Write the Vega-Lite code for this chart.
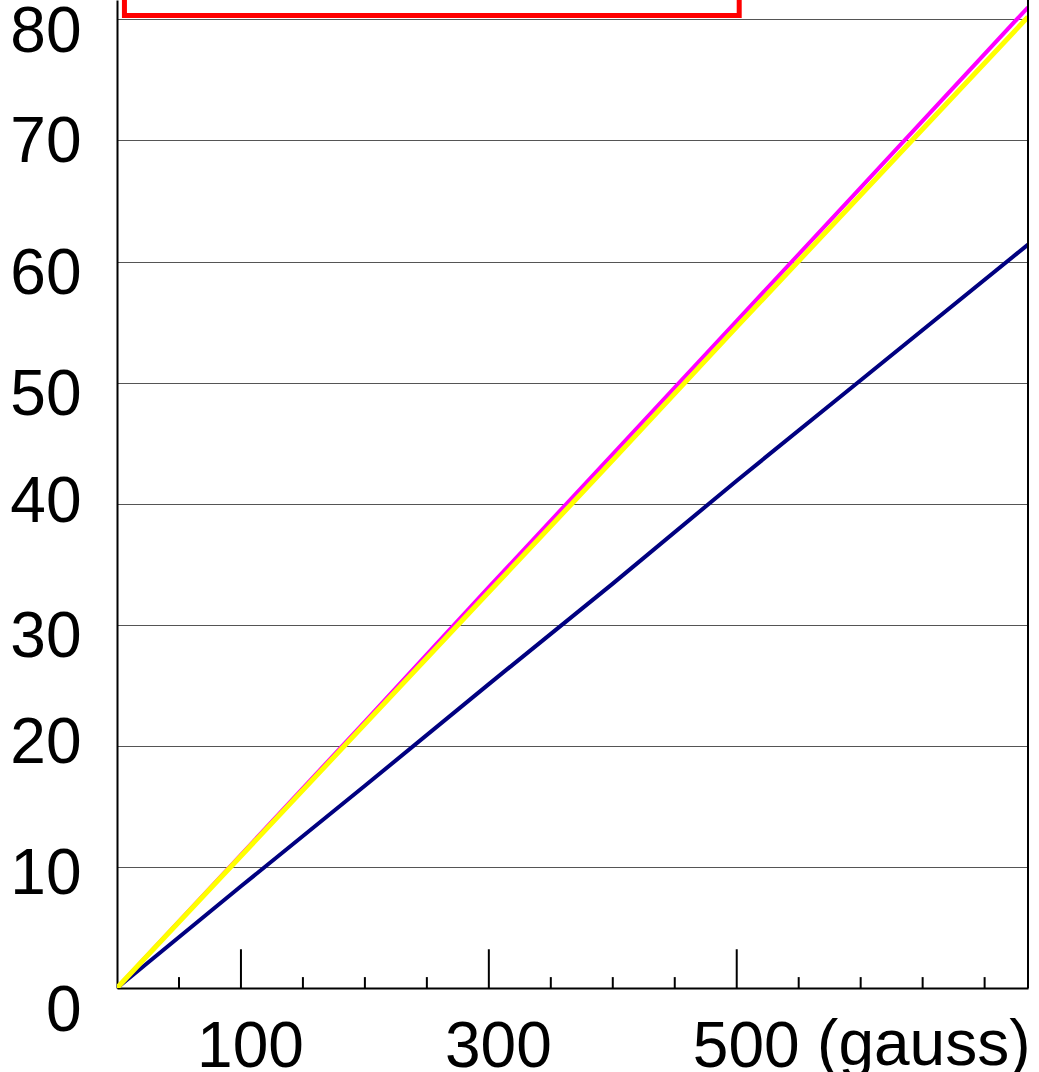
{
  "$schema": "https://vega.github.io/schema/vega-lite/v6.json",
  "width": 911,
  "height": 988,
  "autosize": {"type": "none"},
  "padding": {"left": 117, "top": 0, "right": 11, "bottom": 84},
  "background": "white",
  "view": {"stroke": null},
  "config": {"font": "Liberation Sans"},
  "datasets": {
    "lines": [
      {"gauss": 0, "value": 0, "series": "navy"},
      {"gauss": 100, "value": 8.4, "series": "navy"},
      {"gauss": 200, "value": 16.7, "series": "navy"},
      {"gauss": 300, "value": 25.1, "series": "navy"},
      {"gauss": 400, "value": 33.4, "series": "navy"},
      {"gauss": 500, "value": 41.9, "series": "navy"},
      {"gauss": 600, "value": 50.2, "series": "navy"},
      {"gauss": 735, "value": 61.4, "series": "navy"},
      {"gauss": 0, "value": 0, "series": "magenta"},
      {"gauss": 100, "value": 11.0, "series": "magenta"},
      {"gauss": 200, "value": 22.0, "series": "magenta"},
      {"gauss": 300, "value": 33.1, "series": "magenta"},
      {"gauss": 400, "value": 44.1, "series": "magenta"},
      {"gauss": 500, "value": 55.1, "series": "magenta"},
      {"gauss": 600, "value": 66.1, "series": "magenta"},
      {"gauss": 735, "value": 81.0, "series": "magenta"},
      {"gauss": 0, "value": 0, "series": "yellow"},
      {"gauss": 100, "value": 10.9, "series": "yellow"},
      {"gauss": 200, "value": 21.8, "series": "yellow"},
      {"gauss": 300, "value": 32.7, "series": "yellow"},
      {"gauss": 400, "value": 43.6, "series": "yellow"},
      {"gauss": 500, "value": 54.6, "series": "yellow"},
      {"gauss": 600, "value": 65.5, "series": "yellow"},
      {"gauss": 735, "value": 80.2, "series": "yellow"}
    ],
    "ticks": [
      {"gauss": 50, "base": 0, "len": 0.9},
      {"gauss": 100, "base": 0, "len": 3.2},
      {"gauss": 150, "base": 0, "len": 0.9},
      {"gauss": 200, "base": 0, "len": 0.9},
      {"gauss": 250, "base": 0, "len": 0.9},
      {"gauss": 300, "base": 0, "len": 3.2},
      {"gauss": 350, "base": 0, "len": 0.9},
      {"gauss": 400, "base": 0, "len": 0.9},
      {"gauss": 450, "base": 0, "len": 0.9},
      {"gauss": 500, "base": 0, "len": 3.2},
      {"gauss": 550, "base": 0, "len": 0.9},
      {"gauss": 600, "base": 0, "len": 0.9},
      {"gauss": 650, "base": 0, "len": 0.9},
      {"gauss": 700, "base": 0, "len": 0.9}
    ],
    "box": [{"x1": 6, "x2": 502, "y1": 80.32, "y2": 100}],
    "border": [{"gauss": 735}]
  },
  "layer": [
    {
      "data": {"name": "lines"},
      "transform": [{"filter": "datum.series == 'navy'"}],
      "mark": {"type": "line", "clip": true, "color": "#000080", "strokeWidth": 4},
      "encoding": {
        "x": {
          "field": "gauss", "type": "quantitative",
          "scale": {"domain": [0, 735], "nice": false, "zero": false},
          "axis": {
            "values": [100, 300, 500],
            "ticks": false,
            "grid": false,
            "domainColor": "black",
            "domainWidth": 2,
            "labelFontSize": 64,
            "labelColor": "black",
            "labelFont": "Liberation Sans",
            "labelPadding": 27,
            "labelOffset": 9,
            "labelFlush": false,
            "labelOverlap": false,
            "labelBound": false,
            "title": "(gauss)",
            "titleFont": "Liberation Sans",
            "titleFontSize": 64,
            "titleFontWeight": "normal",
            "titleColor": "black",
            "titleAnchor": "end",
            "titleAlign": "right",
            "titleBaseline": "alphabetic",
            "titleX": 913,
            "titleY": 76
          }
        },
        "y": {
          "field": "value", "type": "quantitative",
          "scale": {"domain": [0, 81.6], "nice": false},
          "axis": {
            "values": [0, 10, 20, 30, 40, 50, 60, 70, 80],
            "ticks": false,
            "grid": true,
            "gridColor": "#555555",
            "gridWidth": 1,
            "domainColor": "black",
            "domainWidth": 2,
            "labelFontSize": 64,
            "labelColor": "black",
            "labelFont": "Liberation Sans",
            "labelPadding": 36,
            "labelOffset": {
              "condition": [
                {"test": "datum.value == 0", "value": 23},
                {"test": "datum.value == 10", "value": 8},
                {"test": "datum.value == 20", "value": -2},
                {"test": "datum.value == 40", "value": -1},
                {"test": "datum.value == 70", "value": 2}
              ],
              "value": 13
            },
            "labelFlush": false,
            "labelOverlap": false,
            "labelBound": false,
            "title": null
          }
        }
      }
    },
    {
      "data": {"name": "lines"},
      "transform": [{"filter": "datum.series == 'magenta'"}],
      "mark": {"type": "line", "clip": true, "color": "#FF00FF", "strokeWidth": 4},
      "encoding": {
        "x": {"field": "gauss", "type": "quantitative"},
        "y": {"field": "value", "type": "quantitative"}
      }
    },
    {
      "data": {"name": "lines"},
      "transform": [{"filter": "datum.series == 'yellow'"}],
      "mark": {"type": "line", "clip": true, "color": "#FFFF00", "strokeWidth": 5},
      "encoding": {
        "x": {"field": "gauss", "type": "quantitative"},
        "y": {"field": "value", "type": "quantitative"}
      }
    },
    {
      "data": {"name": "ticks"},
      "mark": {"type": "rule", "color": "black", "strokeWidth": 2},
      "encoding": {
        "x": {"field": "gauss", "type": "quantitative"},
        "y": {"field": "base", "type": "quantitative"},
        "y2": {"field": "len"}
      }
    },
    {
      "data": {"name": "border"},
      "mark": {"type": "rule", "color": "black", "strokeWidth": 2},
      "encoding": {
        "x": {"field": "gauss", "type": "quantitative"}
      }
    },
    {
      "data": {"name": "box"},
      "mark": {"type": "rect", "fill": "transparent", "stroke": "#FF0000", "strokeWidth": 5, "clip": true},
      "encoding": {
        "x": {"field": "x1", "type": "quantitative"},
        "x2": {"field": "x2"},
        "y": {"field": "y1", "type": "quantitative"},
        "y2": {"field": "y2"}
      }
    }
  ]
}
